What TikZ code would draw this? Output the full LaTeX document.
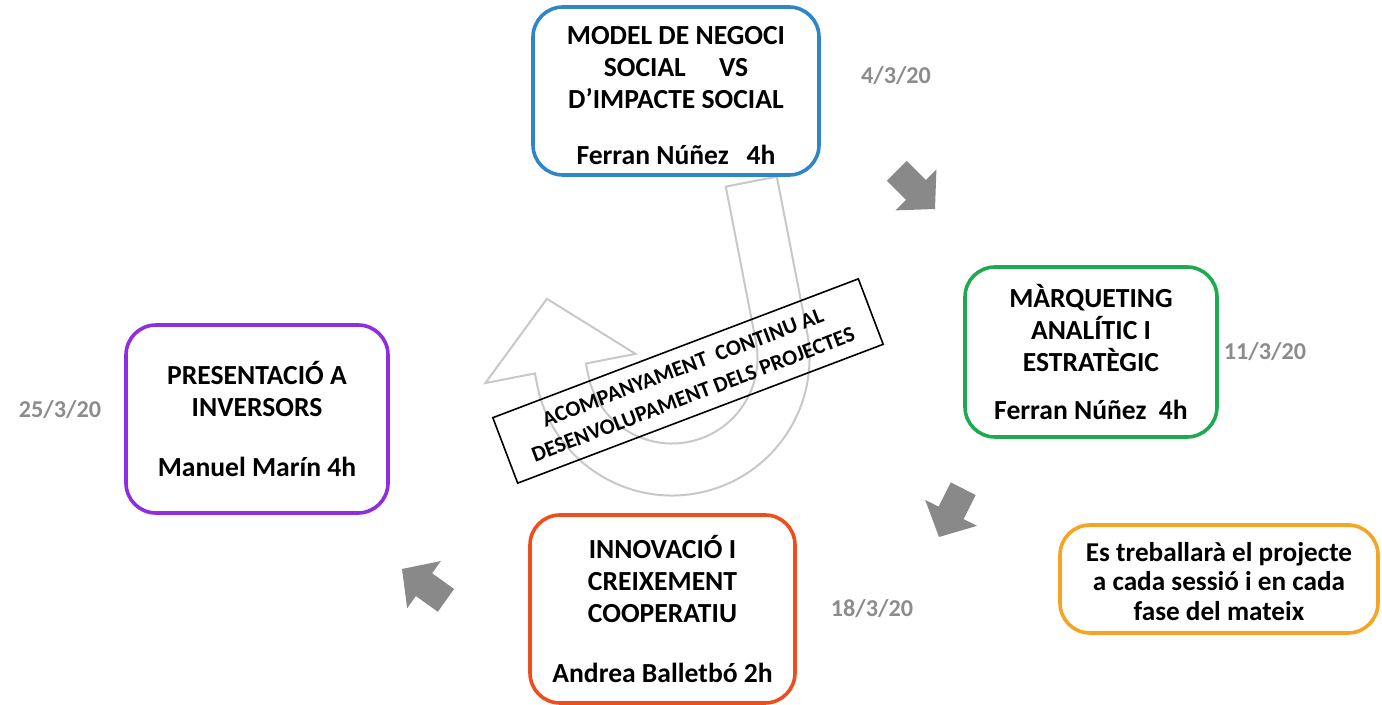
\documentclass[tikz,border=0pt]{standalone}
\usepackage{fontspec}
\setmainfont{Carlito}
\definecolor{cblue}{RGB}{46,134,200}
\definecolor{cgreen}{RGB}{30,170,80}
\definecolor{cpurple}{RGB}{142,45,226}
\definecolor{cred}{RGB}{238,77,30}
\definecolor{corange}{RGB}{245,165,35}
\definecolor{dategray}{RGB}{140,140,140}
\definecolor{arrowgray}{RGB}{137,137,137}
\definecolor{ugray}{RGB}{200,200,200}
\begin{document}
\begin{tikzpicture}[x=0.5pt,y=-0.5pt,
  box/.style={draw, line width=1.8pt, rounded corners=15pt, align=center,
    font=\bfseries\fontsize{13.8}{16}\selectfont, inner sep=0pt},
  datelbl/.style={text=dategray, font=\bfseries\fontsize{12.1}{14}\selectfont, inner sep=0pt},
  garrow/.style={fill=arrowgray, draw=none},
  uturn/.style={draw=ugray, line width=1pt, line join=miter}]
\useasboundingbox (0,0) rectangle (1382,705);

% U-turn arrow (background)
\begin{scope}[shift={(672,358)}, rotate=11]
  \draw[uturn] (85.5,-158) -- (137.5,-158) -- (137.5,0)
    arc[start angle=0, end angle=180, radius=137.5]
    -- (-137.5,-11) -- (-188,-11) -- (-111.5,-82) -- (-35,-11) -- (-85.5,-11) -- (-85.5,0)
    arc[start angle=180, end angle=0, radius=85.5] -- cycle;
\end{scope}

% rotated label
\node[draw, line width=0.8pt, rotate=20.8, minimum width=195.5pt, minimum height=35pt,
  align=center, inner sep=0pt, font=\bfseries\fontsize{11}{14.5}\selectfont]
  (acomp) at (688,381) {ACOMPANYAMENT\ \ CONTINU AL\\DESENVOLUPAMENT DELS PROJECTES};

% boxes
\node[box, draw=cblue, minimum width=143pt, minimum height=84pt] (model) at (676,91)
  {\rule{0pt}{13.5pt}MODEL DE NEGOCI\\SOCIAL\hspace{1.2em}VS\\D’IMPACTE SOCIAL\\[12pt]Ferran Núñez\hspace{0.65em}4h};
\node[box, draw=cgreen, minimum width=126pt, minimum height=85pt] (marq) at (1091,352)
  {MÀRQUETING\\ANALÍTIC I\\ESTRATÈGIC\\[8pt]Ferran Núñez\ \ 4h};
\node[box, draw=cpurple, minimum width=131pt, minimum height=94pt] (pres) at (257,419)
  {PRESENTACIÓ A\\INVERSORS\\[14pt]Manuel Marín 4h};
\node[box, draw=cred, minimum width=132.5pt, minimum height=94pt] (innov) at (662.5,609)
  {INNOVACIÓ I\\CREIXEMENT\\COOPERATIU\\[14pt]Andrea Balletbó 2h};
\node[box, draw=corange, minimum width=159pt, minimum height=54pt,
  font=\bfseries\fontsize{13.6}{14.8}\selectfont] (note) at (1219,579)
  {\rule{0pt}{12pt}Es treballarà el projecte\\a cada sessió i en cada\\fase del mateix};

% dates
\node[datelbl] (d1) at (896,76) {4/3/20};
\node[datelbl] (d2) at (1265,352) {11/3/20};
\node[datelbl] (d3) at (872,609) {18/3/20};
\node[datelbl] (d4) at (60,410) {25/3/20};

% gray block arrows
\begin{scope}[shift={(935,209)}, rotate=-45]
  \fill[garrow] (-54,-14) -- (-27,-14) -- (-27,-29) -- (0,0) -- (-27,29) -- (-27,14) -- (-54,14) -- cycle;
\end{scope}
\begin{scope}[shift={(939,537)}, rotate=-116.6]
  \fill[garrow] (-54,-14) -- (-27,-14) -- (-27,-29) -- (0,0) -- (-27,29) -- (-27,14) -- (-54,14) -- cycle;
\end{scope}
\begin{scope}[shift={(402,569)}, rotate=144.5]
  \fill[garrow] (-54,-14) -- (-27,-14) -- (-27,-29) -- (0,0) -- (-27,29) -- (-27,14) -- (-54,14) -- cycle;
\end{scope}
\end{tikzpicture}
\end{document}
